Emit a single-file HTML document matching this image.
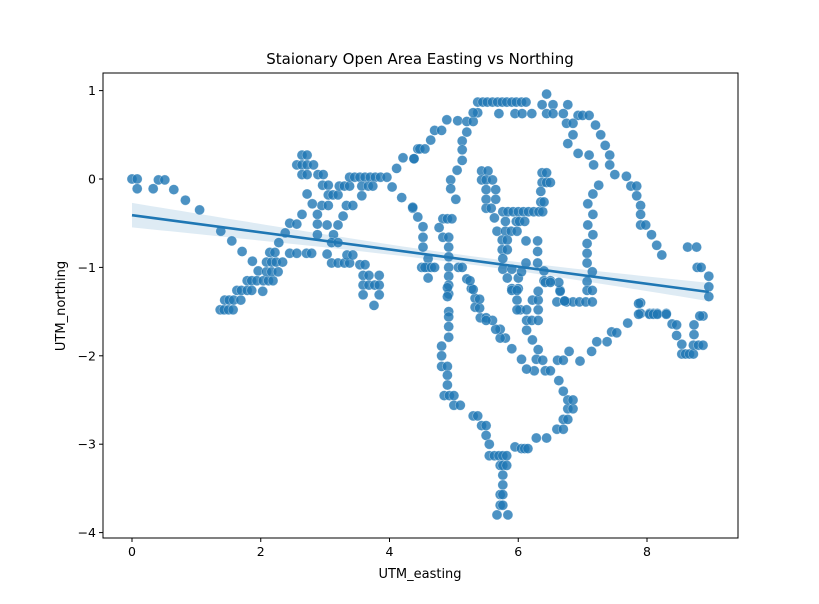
<!DOCTYPE html>
<html><head><meta charset="utf-8"><style>
html,body{margin:0;padding:0;background:#fff;}
svg{display:block;font-family:"DejaVu Sans","Liberation Sans",sans-serif;}
</style></head><body>
<svg id="chart" width="819" height="604" viewBox="0 0 819 604" xmlns="http://www.w3.org/2000/svg">
<rect x="0" y="0" width="819" height="604" fill="#fff"/>
<text x="420" y="64" text-anchor="middle" font-size="15">Staionary Open Area Easting vs Northing</text>
<g id="band"></g>
<g id="pts"></g>
<g id="fit"></g>
<g id="axes"></g>
<text x="420" y="578" text-anchor="middle" font-size="13">UTM_easting</text>
<text x="65" y="306" text-anchor="middle" font-size="13" transform="rotate(-90 65 306)">UTM_northing</text>
</svg>
<script>
const xTicks=[0,2,4,6,8];
const yTicks=[1,0,-1,-2,-3,-4];
const yTickLabels=["1","0","\u22121","\u22122","\u22123","\u22124"];
const easting=[0,0.08,0.08,0.33,0.41,0.51,0.65,0.83,1.05,1.38,1.55,1.71,1.87,1.96,2.03,
1.37,1.43,1.5,1.57,1.44,1.51,1.58,1.69,1.63,1.7,1.79,1.86,1.79,1.86,1.94,2.04,2.12,2.19,2.09,2.17,2.27,2.09,2.17,2.24,2.34,2.14,2.22,2.28,2.38,2.45,2.56,2.64,2.72,2.45,2.56,2.71,2.79,
2.64,2.72,2.56,2.64,2.72,2.82,2.64,2.72,2.89,2.97,2.96,3.05,3.05,3.12,3.2,2.95,3.05,2.88,2.88,2.88,2.8,3.13,3.1,3.2,3.03,3.2,3.03,3.28,3.33,3.43,3.22,3.3,3.38,
3.38,3.46,3.54,3.62,3.7,3.78,3.86,3.96,3.57,3.67,3.74,3.57,4.04,4.11,4.21,4.38,4.44,4.19,4.36,
3.1,3.2,3.3,3.38,3.34,3.43,3.54,3.62,3.59,3.68,3.84,3.59,3.68,3.77,3.84,3.59,3.84,3.76,
5.37,5.45,5.52,5.6,5.68,5.75,5.82,5.9,5.97,6.05,6.12,6.37,6.54,6.44,6.77,5.7,5.95,6.06,6.21,6.44,6.54,6.7,6.93,7.0,7.1,7.2,7.28,7.35,7.42,7.42,7.5,7.68,7.75,7.84,7.84,7.9,7.9,7.9,7.98,8.07,8.15,8.23,8.63,8.77,8.78,8.84,8.96,8.96,8.96,
6.75,6.85,6.85,6.77,6.93,7.1,7.17,7.25,7.16,7.08,7.16,7.08,7.16,7.07,7.07,7.07,7.15,7.07,7.07,7.15,6.6,6.75,6.85,6.95,7.05,7.15,
4.38,4.47,4.55,4.64,4.7,4.81,4.89,5.06,5.2,5.3,5.37,5.3,5.2,5.13,5.13,5.13,5.05,4.95,4.95,5.03,
5.43,5.53,5.43,5.5,5.6,5.5,5.65,5.5,5.65,5.5,5.58,5.63,5.67,5.76,5.84,5.92,6.0,6.08,6.16,6.24,6.32,6.38,5.8,5.97,6.02,6.1,5.8,5.89,5.98,6.37,6.44,6.37,6.44,6.5,6.35,6.35,6.4,
5.75,5.83,5.75,5.83,5.76,5.76,5.9,5.83,6.0,5.9,6.0,6.3,6.3,6.3,6.12,6.12,6.05,
4.36,4.44,4.52,4.52,4.52,4.6,4.6,4.5,4.55,4.65,4.7,4.6,4.83,4.9,4.97,4.77,4.83,4.92,4.92,4.92,4.92,4.92,4.92,4.92,4.92,5.07,5.13,5.2,5.27,5.33,5.33,5.41,5.5,
6.4,6.4,6.5,6.65,6.72,7.9,7.9,8.04,8.1,8.16,8.3,8.87,
4.9,4.9,4.92,4.92,4.92,4.81,4.81,4.81,4.9,4.9,4.9,4.85,4.93,5.0,5.0,5.1,5.3,5.37,5.43,5.5,5.5,5.55,5.55,5.63,5.7,5.76,5.82,5.72,5.76,5.82,5.76,5.76,5.72,5.76,5.72,5.76,5.67,5.84,
5.95,6.05,6.1,6.15,6.28,6.44,6.6,6.7,6.7,6.77,6.77,6.85,6.77,6.85,6.7,6.63,6.42,6.5,6.25,6.13,6.05,5.9,5.8,5.72,5.72,5.65,5.6,5.5,5.4,5.4,5.3,5.25,
6.22,6.31,6.28,6.38,6.61,6.7,6.79,6.96,7.14,7.22,7.38,7.45,7.53,7.7,7.87,7.87,8.04,8.1,8.16,8.3,8.39,8.46,8.46,8.54,8.54,8.6,8.66,8.72,8.72,8.8,8.87,8.73,8.73,8.82,
6.03,6.13,6.31,6.22,6.31,6.31,6.13,6.21,6.31,6.13,5.98,5.98,5.9,5.98,6.72,6.65,6.63,6.42,6.5];
const northing=[0,0,-0.11,-0.11,-0.01,-0.01,-0.12,-0.24,-0.35,-0.59,-0.7,-0.82,-0.93,-1.04,-1.27,
-1.48,-1.48,-1.48,-1.48,-1.37,-1.37,-1.37,-1.37,-1.26,-1.26,-1.26,-1.26,-1.15,-1.15,-1.15,-1.15,-1.15,-1.15,-1.05,-1.05,-1.05,-0.94,-0.94,-0.94,-0.94,-0.83,-0.83,-0.72,-0.61,-0.5,-0.51,-0.4,-0.17,-0.84,-0.84,-0.84,-0.84,
0.27,0.27,0.16,0.16,0.16,0.16,0.05,0.05,0.05,0.05,-0.07,-0.07,-0.18,-0.18,-0.18,-0.3,-0.3,-0.4,-0.51,-0.63,-0.28,-0.63,-0.72,-0.72,-0.52,-0.52,-0.85,-0.42,-0.3,-0.3,-0.08,-0.08,-0.08,
0.02,0.02,0.02,0.02,0.02,0.02,0.02,0.02,-0.08,-0.08,-0.08,-0.19,-0.09,0.12,0.24,0.23,0.34,-0.21,-0.33,
-0.95,-0.95,-0.95,-0.95,-0.86,-0.86,-0.97,-0.97,-1.09,-1.09,-1.09,-1.2,-1.2,-1.2,-1.2,-1.31,-1.31,-1.43,
0.87,0.87,0.87,0.87,0.87,0.87,0.87,0.87,0.87,0.87,0.87,0.84,0.84,0.96,0.84,0.74,0.74,0.74,0.74,0.74,0.74,0.74,0.72,0.72,0.72,0.61,0.5,0.38,0.27,0.16,0.05,0.03,-0.08,-0.08,-0.19,-0.3,-0.4,-0.52,-0.52,-0.63,-0.75,-0.86,-0.77,-0.77,-1.0,-1.0,-1.1,-1.22,-1.33,
0.63,0.63,0.5,0.4,0.29,0.27,0.16,-0.07,-0.17,-0.28,-0.4,-0.52,-0.63,-0.73,-0.84,-0.95,-1.05,-1.16,-1.26,-1.26,-1.39,-1.39,-1.39,-1.39,-1.39,-1.39,
0.23,0.34,0.34,0.44,0.55,0.55,0.67,0.66,0.65,0.65,0.75,0.75,0.53,0.43,0.33,0.21,0.1,-0.01,-0.11,-0.23,
0.09,0.09,-0.01,-0.01,-0.01,-0.12,-0.12,-0.23,-0.23,-0.33,-0.33,-0.44,-0.59,-0.37,-0.37,-0.37,-0.37,-0.37,-0.37,-0.37,-0.37,-0.37,-0.48,-0.48,-0.48,-0.48,-0.59,-0.59,-0.59,0.07,0.07,-0.04,-0.04,-0.04,-0.14,-0.26,-0.26,
-0.69,-0.69,-0.8,-0.8,-0.9,-1.02,-1.02,-1.12,-1.12,-1.24,-1.24,-0.7,-0.82,-0.95,-0.7,-0.95,-1.05,
-0.32,-0.43,-0.54,-0.66,-0.77,-0.9,-1.0,-1.0,-1.0,-1.0,-1.0,-1.12,-0.45,-0.45,-0.45,-0.55,-0.66,-0.66,-0.77,-0.88,-1.0,-1.1,-1.2,-1.3,-1.5,-1.0,-1.0,-1.13,-1.24,-1.35,-1.45,-1.57,-1.57,
-1.04,-1.15,-1.15,-1.26,-1.38,-1.4,-1.52,-1.52,-1.52,-1.52,-1.52,-1.55,
-1.23,-1.33,-1.56,-1.67,-1.79,-1.89,-2.0,-2.12,-2.12,-2.22,-2.33,-2.45,-2.45,-2.45,-2.56,-2.56,-2.68,-2.68,-2.79,-2.79,-2.9,-3.0,-3.13,-3.13,-3.13,-3.13,-3.13,-3.24,-3.24,-3.24,-3.35,-3.46,-3.57,-3.57,-3.69,-3.69,-3.8,-3.8,
-3.03,-3.05,-3.05,-3.05,-2.93,-2.93,-2.83,-2.83,-2.72,-2.72,-2.6,-2.6,-2.5,-2.5,-2.4,-2.28,-2.17,-2.17,-2.17,-2.15,-2.04,-1.92,-1.8,-1.8,-1.7,-1.7,-1.6,-1.6,-1.46,-1.36,-1.25,-1.15,
-1.82,-1.93,-2.04,-2.05,-2.05,-2.05,-1.95,-2.06,-1.95,-1.84,-1.84,-1.73,-1.74,-1.63,-1.53,-1.41,-1.53,-1.53,-1.53,-1.53,-1.64,-1.65,-1.77,-1.87,-1.98,-1.98,-1.98,-1.98,-1.88,-1.88,-1.88,-1.76,-1.65,-1.55,
-1.48,-1.48,-1.48,-1.37,-1.37,-1.27,-1.6,-1.6,-1.6,-1.71,-1.37,-1.48,-1.26,-1.26,-1.38,-1.27,-1.17,-1.17,-1.17];

const L=103,R=738,T=73,B=538;
const X0=132,XS=64.375,Y0=179,YS=88.4;
const sx=v=>X0+v*XS, sy=v=>Y0-v*YS;
const NS="http://www.w3.org/2000/svg";
function mk(tag,attrs,parent){const e=document.createElementNS(NS,tag);for(const k in attrs)e.setAttribute(k,attrs[k]);parent.appendChild(e);return e;}

const n=Math.min(easting.length,northing.length);
let mx=0,my=0;for(let i=0;i<n;i++){mx+=easting[i];my+=northing[i];}mx/=n;my/=n;
let sxx=0,sxy=0;for(let i=0;i<n;i++){sxx+=(easting[i]-mx)**2;sxy+=(easting[i]-mx)*(northing[i]-my);}
const slope=sxy/sxx, icpt=my-slope*mx;
let sse=0;for(let i=0;i<n;i++){sse+=(northing[i]-icpt-slope*easting[i])**2;}
const s=Math.sqrt(sse/(n-2));
let xmin=Infinity,xmax=-Infinity;for(let i=0;i<n;i++){xmin=Math.min(xmin,easting[i]);xmax=Math.max(xmax,easting[i]);}
const up=[],lo=[];
for(let k=0;k<=60;k++){const x=xmin+(xmax-xmin)*k/60;const hw=1.0*s*Math.sqrt(1/n+(x-mx)**2/sxx);const yh=icpt+slope*x;
up.push(sx(x).toFixed(1)+","+sy(yh+hw).toFixed(1));lo.unshift(sx(x).toFixed(1)+","+sy(yh-hw).toFixed(1));}
const band=mk('polygon',{points:up.concat(lo).join(' '),fill:'#1f77b4','fill-opacity':0.15,stroke:'none'},document.getElementById('band'));



const pg=document.getElementById('pts');
for(let i=0;i<n;i++){
  const c=mk('circle',{cx:sx(easting[i]).toFixed(1),cy:sy(northing[i]).toFixed(1),r:5,fill:'#1f77b4','fill-opacity':0.8,stroke:'#ffffff','stroke-opacity':0.4,'stroke-width':0.6},pg);
  
  
}
const fl=mk('line',{x1:sx(xmin),y1:sy(icpt+slope*xmin),x2:sx(xmax),y2:sy(icpt+slope*xmax),stroke:'#1f77b4','stroke-width':2.6},document.getElementById('fit'));



const ax=document.getElementById('axes');
const fr=mk('rect',{x:L,y:T,width:R-L,height:B-T,fill:'none',stroke:'#000','stroke-width':1},ax);


xTicks.forEach(v=>{const x=sx(v);
  const t=mk('line',{x1:x,y1:B,x2:x,y2:B+4,stroke:'#000'},ax);
  
  
  const tx=mk('text',{x:x,y:B+18,'text-anchor':'middle','font-size':12.5},ax);tx.textContent=String(v);
  
  
});
yTicks.forEach((v,i)=>{const y=sy(v);
  const t=mk('line',{x1:L-4,y1:y,x2:L,y2:y,stroke:'#000'},ax);
  
  
  const tx=mk('text',{x:L-7,y:y+4.5,'text-anchor':'end','font-size':12.5},ax);tx.textContent=yTickLabels[i];
  
  
});
</script>
</body></html>
